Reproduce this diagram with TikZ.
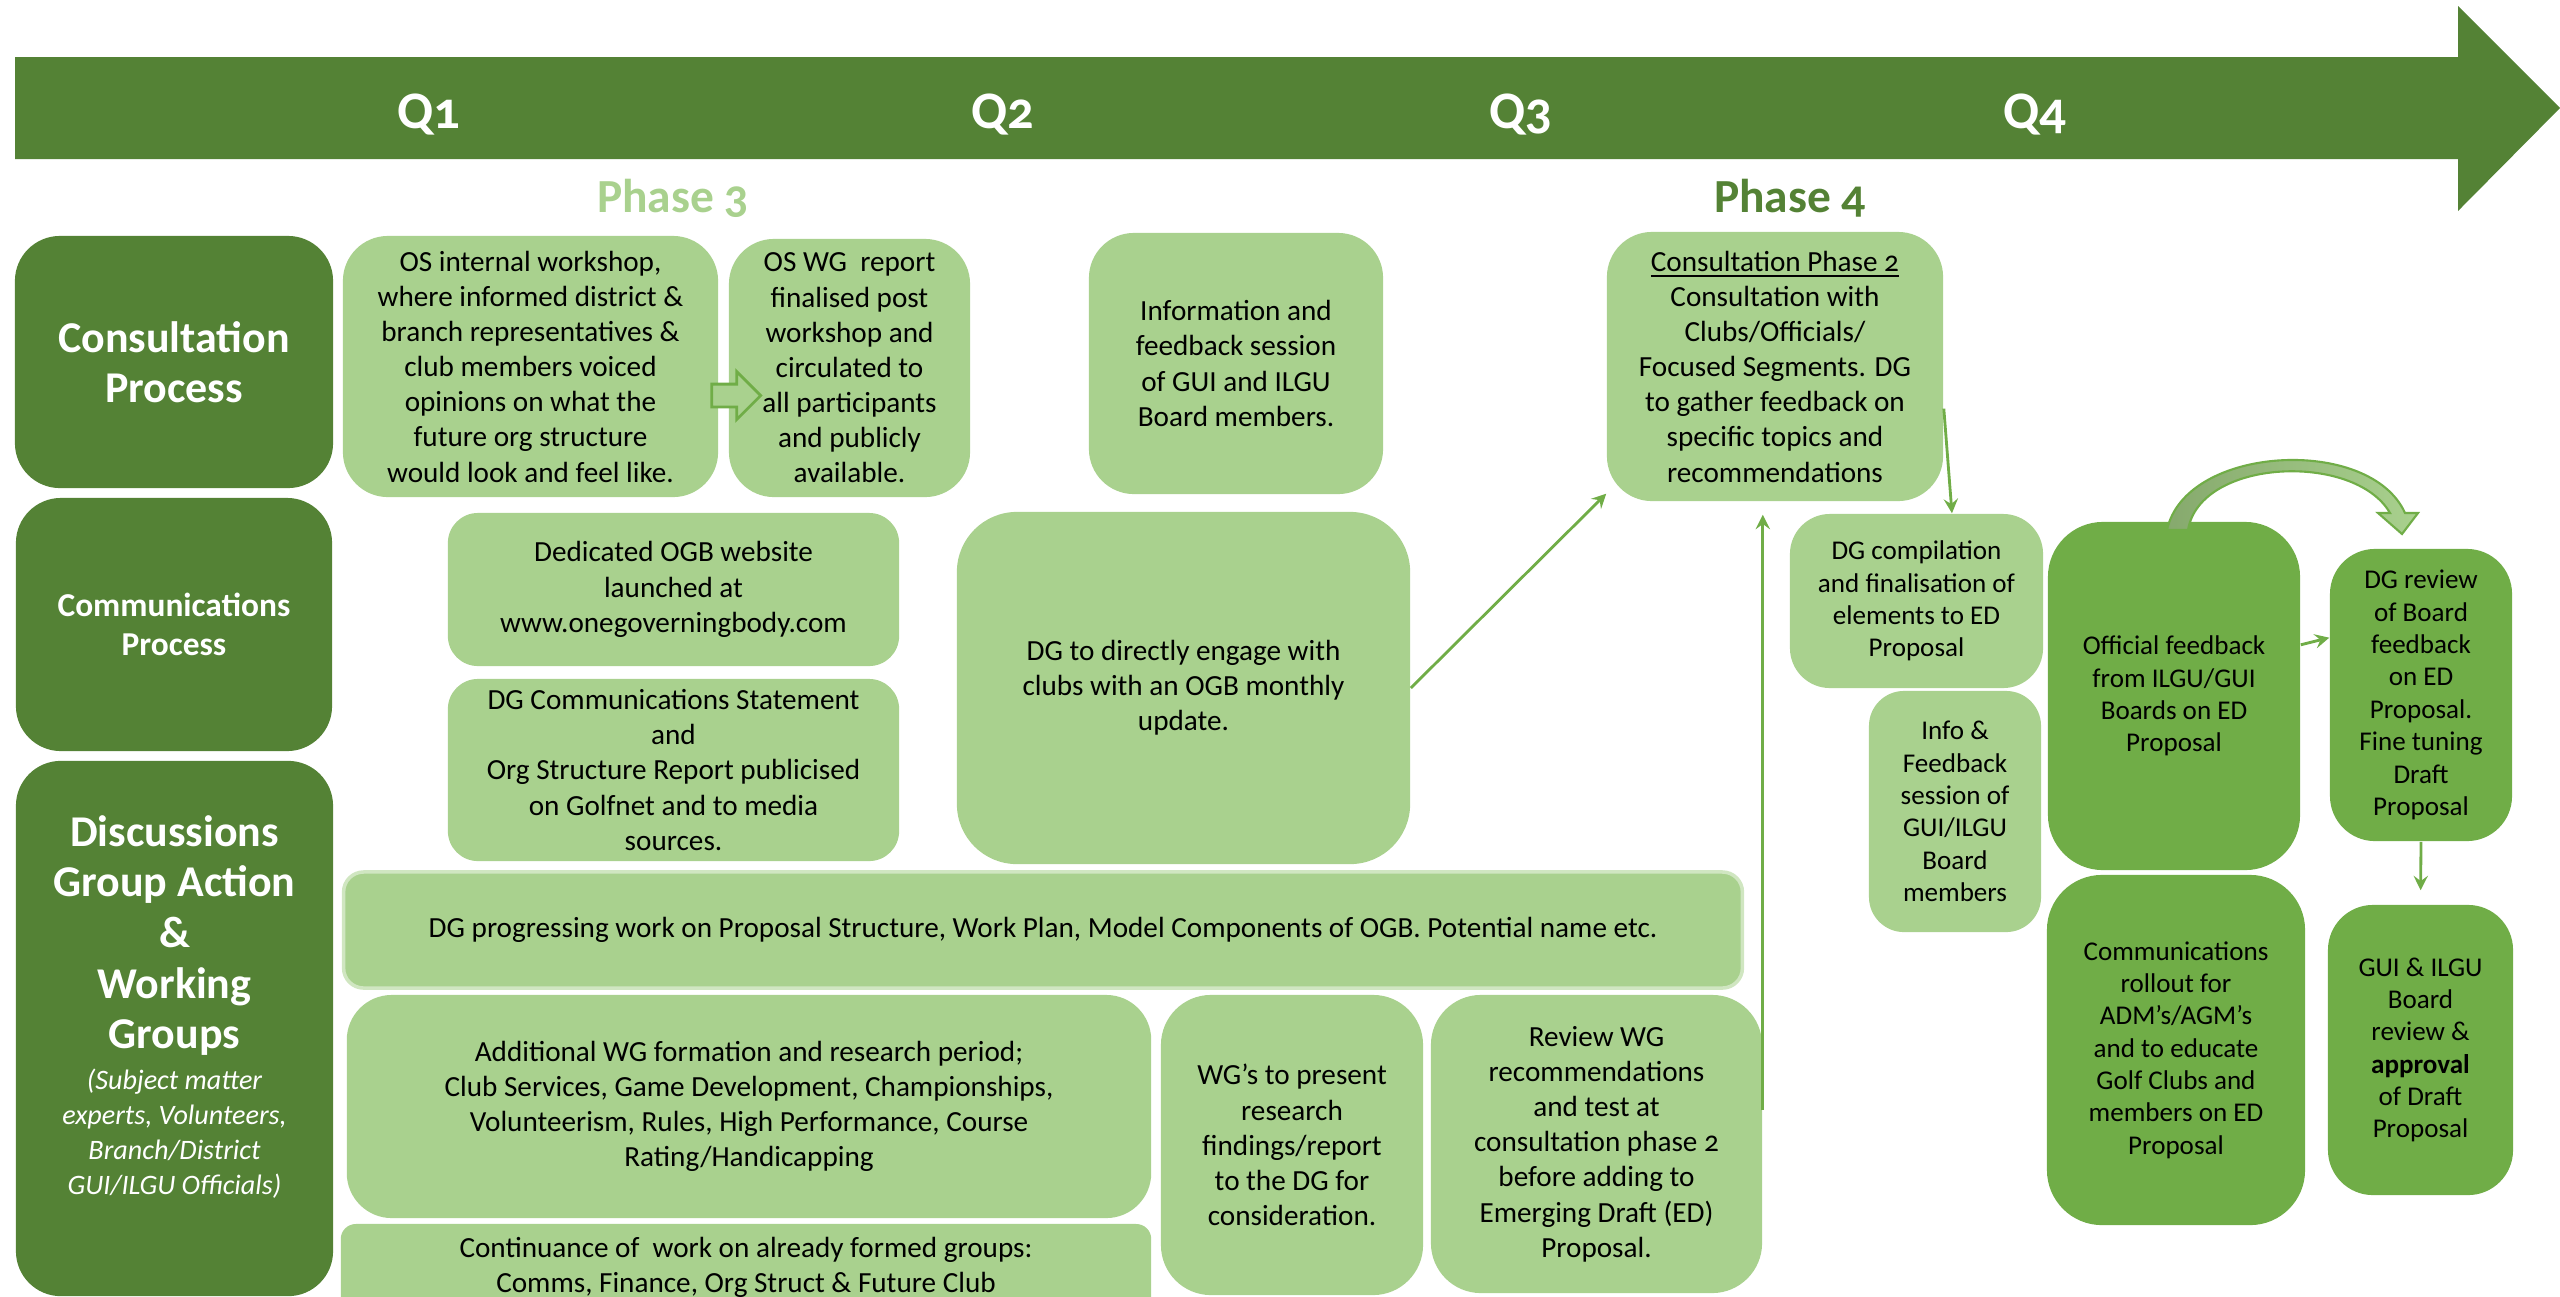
\documentclass[tikz,border=0pt]{standalone}
\usepackage{fontspec}
\setmainfont{Carlito}[Numbers=OldStyle]
\usepackage{tikz}
\usetikzlibrary{arrows}
\usetikzlibrary{shapes.arrows}

\definecolor{hdrgreen}{HTML}{548235}
\definecolor{boxgreen}{HTML}{A9D18E}
\definecolor{midgreen}{HTML}{70AD47}
\definecolor{arcgreen}{HTML}{86A96D}

\begin{document}
\begin{tikzpicture}[x=0.01cm, y=-0.01cm, >=stealth,
                    every edge/.style={draw=midgreen, line width=0.8pt},
                    every node/.style={inner sep=0pt, align=center},
                    hdr/.style={fill=hdrgreen, text=white, rounded corners=4.5mm},
                    box/.style={fill=boxgreen, rounded corners=4.5mm, font=\fontsize{8.3}{10}\selectfont},
                    rbox/.style={box, font=\fontsize{7.7}{9.2}\selectfont},
                    mbox/.style={rbox, fill=midgreen}]

\useasboundingbox (0,0) rectangle (2560,1296);
\clip (0,0) rectangle (2560,1296);

% timeline
\fill[hdrgreen] (15,57) -- (2458,57) -- (2458,6) -- (2560,108) -- (2458,211) -- (2458,159) -- (15,159) -- cycle;

\node[text=white, font=\fontsize{15}{18}\selectfont\bfseries, anchor=base] (Q1) at (429,128) {Q1};
\node[text=white, font=\fontsize{15}{18}\selectfont\bfseries, anchor=base] (Q2) at (1003,128) {Q2};
\node[text=white, font=\fontsize{15}{18}\selectfont\bfseries, anchor=base] (Q3) at (1521,128) {Q3};
\node[text=white, font=\fontsize{15}{18}\selectfont\bfseries, anchor=base] (Q4) at (2035,128) {Q4};

\node[text=boxgreen, font=\fontsize{13.5}{16}\selectfont\bfseries, anchor=base] (P3) at (673,212) {Phase 3};
\node[text=hdrgreen, font=\fontsize{13.5}{16}\selectfont\bfseries, anchor=base] (P4) at (1790,212) {Phase 4};

% row headers
\node[hdr, minimum width=3.18cm, minimum height=2.52cm, font=\fontsize{12.5}{14.3}\selectfont\bfseries] (cons) at (174,362) {Consultation\\ Process};
\node[hdr, minimum width=3.16cm, minimum height=2.53cm, font=\fontsize{9.5}{11}\selectfont\bfseries] (comm) at (174,624.5) {Communications\\ Process};
\node[hdr, minimum width=3.17cm, minimum height=5.35cm] (disc) at (174.5,1028.5) {};
\node[text=white, text width=3.1cm, align=flush center] (discT) at (174.5,1007) {{\fontsize{12.5}{14.4}\selectfont\bfseries Discussions\\ Group Action\\ \&\\ Working\\ Groups\par}\vspace{1.5pt}{\fontsize{8}{10}\selectfont\itshape (Subject matter\\ experts, Volunteers,\\ Branch/District\\ GUI/ILGU Officials)\par}};

% consultation row
\node[box, minimum width=3.75cm, minimum height=2.61cm] (osWork) at (530.5,366.5) {OS internal workshop,\\ where informed district \&\\ branch representatives \&\\ club members voiced\\ opinions on what the\\ future org structure\\ would look and feel like.};
\node[box, minimum width=2.41cm, minimum height=2.58cm] (osWG) at (849.5,368) {OS WG~ report\\ finalised post\\ workshop and\\ circulated to\\ all participants\\ and publicly\\ available.};
\node[single arrow, draw=midgreen, fill=boxgreen, line width=0.8pt, inner sep=1mm, minimum height=0.49cm, single arrow head extend=1.25mm] (blk) at (730.5,395.5) {};
\node[box, minimum width=2.94cm, minimum height=2.61cm] (infoSess) at (1236,363.5) {Information and\\ feedback session\\ of GUI and ILGU\\ Board members.};
\node[box, minimum width=3.36cm, minimum height=2.69cm] (consPh2) at (1775,366.5) {\underline{Consultation Phase 2}\\ Consultation with\\ Clubs/Officials/\\ Focused Segments. DG\\ to gather feedback on\\ specific topics and\\ recommendations};

% communications row
\node[box, rounded corners=3mm, minimum width=4.51cm, minimum height=1.53cm] (website) at (673.5,589.5) {Dedicated OGB website\\ launched at\\ www.onegoverningbody.com};
\node[box, rounded corners=3mm, minimum width=4.51cm, minimum height=1.82cm] (commStmt) at (673.5,770) {DG Communications Statement\\ and\\ Org Structure Report publicised\\ on Golfnet and to media\\ sources.};
\node[box, rounded corners=6mm, minimum width=4.53cm, minimum height=3.52cm] (engage) at (1183.5,688) {DG to directly engage with\\ clubs with an OGB monthly\\ update.};

% discussions row
\node[box, draw=boxgreen!55!white, line width=1pt, rounded corners=2mm, minimum width=13.98cm, minimum height=1.16cm] (progress) at (1043,930) {DG progressing work on Proposal Structure, Work Plan, Model Components of OGB. Potential name etc.};
\node[box, minimum width=8.04cm, minimum height=2.23cm] (addWG) at (749,1106.5) {Additional WG formation and research period;\\ Club Services, Game Development, Championships,\\ Volunteerism, Rules, High Performance, Course\\ Rating/Handicapping};
\node[box, rounded corners=1.5mm, minimum width=8.10cm, minimum height=0.86cm] (contin) at (746,1267) {Continuance of~ work on already formed groups:\\ Comms, Finance, Org Struct \& Future Club};
\node[box, rounded corners=5mm, minimum width=2.62cm, minimum height=3.00cm] (present) at (1292,1145) {WG's to present\\ research\\ findings/report\\ to the DG for\\ consideration.};
\node[box, rounded corners=5mm, minimum width=3.31cm, minimum height=2.98cm] (review) at (1596.5,1144) {Review WG\\ recommendations\\ and test at\\ consultation phase 2\\ before adding to\\ Emerging Draft (ED)\\ Proposal.};

% phase 4
\node[rbox, rounded corners=4mm, minimum width=2.53cm, minimum height=1.74cm] (compile) at (1916.5,601) {DG compilation\\ and finalisation of\\ elements to ED\\ Proposal};
\node[rbox, rounded corners=3.5mm, minimum width=1.72cm, minimum height=2.41cm] (infoFb) at (1955,811.5) {Info \&\\ Feedback\\ session of\\ GUI/ILGU\\ Board\\ members};
\node[mbox, rounded corners=5.5mm, minimum width=2.52cm, minimum height=3.48cm] (official) at (2174,696) {Official feedback\\ from ILGU/GUI\\ Boards on ED\\ Proposal};
\node[mbox, rounded corners=5.5mm, minimum width=2.58cm, minimum height=3.50cm] (rollout) at (2176,1050) {Communications\\ rollout for\\ ADM's/AGM's\\ and to educate\\ Golf Clubs and\\ members on ED\\ Proposal};
\node[mbox, minimum width=1.82cm, minimum height=2.92cm] (dgReview) at (2421,695) {DG review\\ of Board\\ feedback\\ on ED\\ Proposal.\\ Fine tuning\\ Draft\\ Proposal};
\node[mbox, minimum width=1.85cm, minimum height=2.90cm] (approve) at (2420.5,1050) {GUI \& ILGU\\ Board\\ review \&\\ \textbf{approval}\\ of Draft\\ Proposal};

\path[->]
(engage.east) edge (consPh2.-143)
(consPh2.-14) edge (compile.68)
([yshift=3.4mm]review.east) edge [shorten >=1.3mm] (review.east |- consPh2.south)
(official.22) edge (dgReview.148)
(dgReview.south) edge [shorten >=1.4mm] (approve.north);

% curved block arrow
\path[draw=midgreen, line width=0.6pt, left color=arcgreen, right color=boxgreen]
  (2167,530) .. controls (2185,445) and (2370,435) .. (2405,513) -- (2418,513) -- (2402,534)
  -- (2378,513) -- (2390,513) .. controls (2355,452) and (2200,458) .. (2188,530) -- cycle;
\end{tikzpicture}
\end{document}
